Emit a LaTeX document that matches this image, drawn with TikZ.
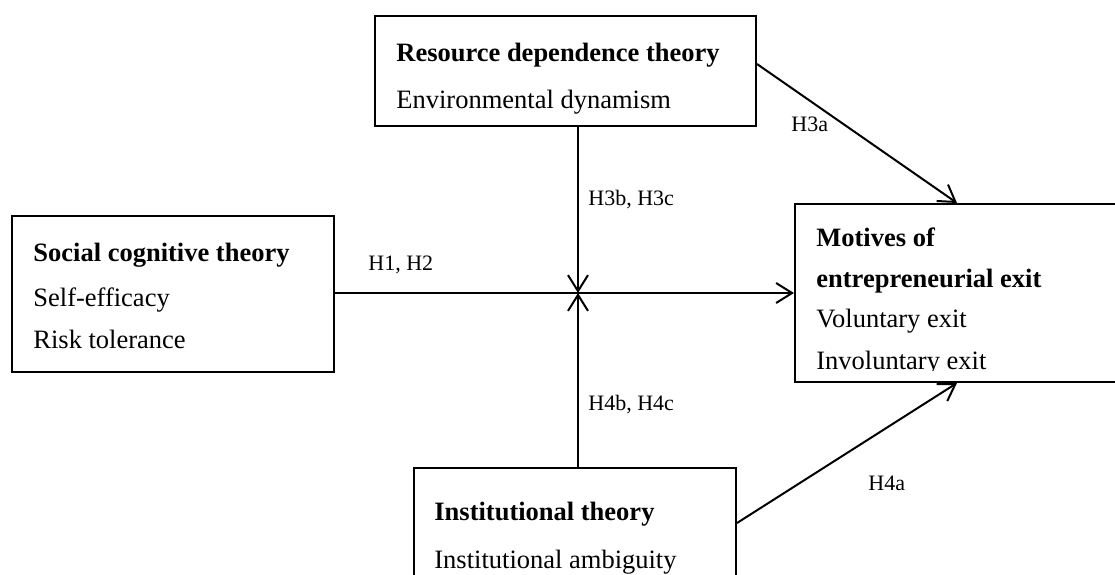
\documentclass[tikz,border=0pt]{standalone}
\usepackage{fontspec}
\setmainfont{Liberation Serif}
\usetikzlibrary{arrows.meta,calc}
\begin{document}
\begin{tikzpicture}[x=0.5pt,y=-0.5pt,
  box/.style={draw,line width=1pt,rectangle,inner sep=0pt},
  head/.style={inner sep=0pt,anchor=base west,font=\fontsize{13.25}{15}\selectfont\bfseries},
  item/.style={inner sep=0pt,anchor=base west,font=\fontsize{13.25}{15}\selectfont},
  hyp/.style={inner sep=0pt,anchor=base west,font=\fontsize{11}{13}\selectfont},
  link/.style={line width=1pt},
  arr/.style={link,-{Straight Barb[length=8pt,width=10pt,line width=1pt]}}]
\clip (0,0) rectangle (1115,574);
\fill[white] (0,0) rectangle (1115,574);

% theory boxes
\node[box,minimum width=190.5pt,minimum height=55pt] (rdt) at (565.5,71) {};
\node[box,minimum width=161pt,minimum height=78pt] (sct) at (173,294) {};
\node[box,minimum width=167.5pt,minimum height=89pt] (mee) at (962.5,293) {};
\node[box,minimum width=161pt,minimum height=66pt] (it) at (575,534) {};

% box contents
\node[head] (rdtH) at (396,61) {Resource dependence theory};
\node[item] (rdt1) at (396,108) {Environmental dynamism};

\node[head] (sctH) at (33,261) {Social cognitive theory};
\node[item] (sct1) at (33,306) {Self-efficacy};
\node[item] (sct2) at (33,348) {Risk tolerance};

\begin{scope}
  \clip (795,204) rectangle (1115,370);
  \node[head] (meeH1) at (816,246) {Motives of};
  \node[head] (meeH2) at (816,287) {entrepreneurial exit};
  \node[item] (mee1) at (816,327) {Voluntary exit};
  \node[item] (mee2) at (816,369) {Involuntary exit};
\end{scope}

\node[head] (itH) at (434,520) {Institutional theory};
\node[item] (it1) at (434,568) {Institutional ambiguity};

% meeting point of the moderating paths
\coordinate (mid) at (578,293);
\coordinate (inTop) at ($(mee.north west)+(163,0)$);
\coordinate (inBot) at ($(mee.south west)+(163,0)$);

% connectors
\draw[arr] (sct.east |- mid) -- (mee.west |- mid);
\draw[arr] (rdt.south -| mid) -- (mid);
\draw[arr] (it.north -| mid) -- (mid);
\draw[arr] ($(rdt.east)+(0,-7)$) -- (inTop);
\draw[arr] ($(it.east)+(0,-11)$) -- (inBot);

% hypothesis labels
\node[hyp] (h3a) at (791,131) {H3a};
\node[hyp] (h3bc) at (588,205) {H3b, H3c};
\node[hyp] (h12) at (368,270) {H1, H2};
\node[hyp] (h4bc) at (588,410) {H4b, H4c};
\node[hyp] (h4a) at (868,490) {H4a};
\end{tikzpicture}
\end{document}
